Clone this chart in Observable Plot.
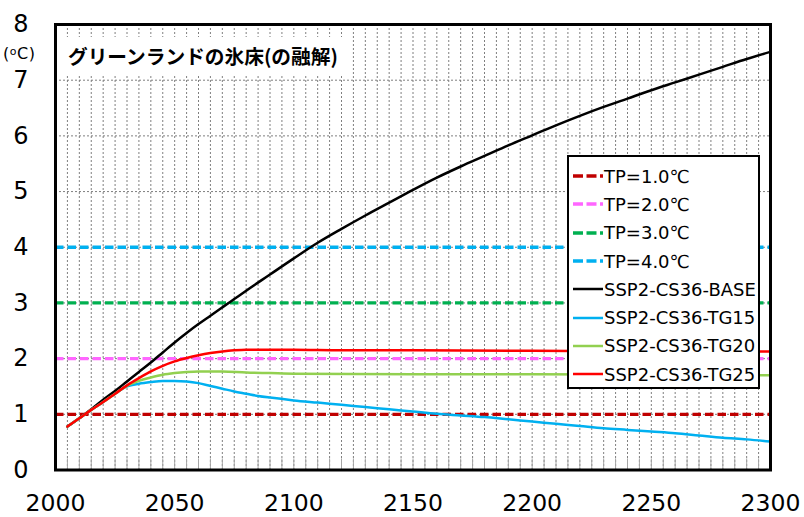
<!DOCTYPE html>
<html>
<head>
<meta charset="utf-8">
<script src="https://cdn.jsdelivr.net/npm/d3@7"></script>
<script src="https://cdn.jsdelivr.net/npm/@observablehq/plot@0.6"></script>
<style>
  body { margin: 0; background: #fff; }
  #chart { position: relative; width: 804px; height: 517px; font-family: "DejaVu Sans", Verdana, sans-serif; }
  #chart svg { display: block; }
  #title {
    position: absolute; left: 57px; top: 37px; width: 286px; height: 38px;
    background: #fff; box-sizing: border-box; padding-left: 11px;
    font-family: "Noto Sans CJK JP", sans-serif; font-weight: bold; font-size: 19.7px; line-height: 38px;
    white-space: nowrap;
  }
  #unit {
    position: absolute; left: 3px; top: 44px; font-size: 16px; letter-spacing: 0.5px; white-space: nowrap;
  }
  #unit span { font-size: 11px; vertical-align: 4px; }
  #legend {
    position: absolute; left: 567px; top: 155px; width: 193px; height: 234px;
    box-sizing: border-box; border: 2px solid #000; background: #fff; padding-top: 5px;
  }
  .entry { height: 28.3px; display: flex; align-items: center; font-size: 18px; white-space: nowrap; }
  .entry svg { margin-left: 3px; margin-right: 1px; flex: none; }
</style>
</head>
<body>
<div id="chart">
  <div id="unit">(<span>o</span>C)</div>
</div>
<script>
// Threshold temperatures (TP) drawn as dashed horizontal reference lines
const tpLabels = ["TP=1.0℃", "TP=2.0℃", "TP=3.0℃", "TP=4.0℃"];
const tpValues = [1, 2, 3, 4];
const tpColors = ["#c00000", "#ff66ff", "#00b050", "#00b0f0"];

// Temperature pathways (°C)
const seriesNames = ["SSP2-CS36-BASE", "SSP2-CS36-TG15", "SSP2-CS36-TG20", "SSP2-CS36-TG25"];
const seriesColors = ["#000000", "#00b0f0", "#92d050", "#ff0000"];

const baseYears  = [2005, 2010, 2015, 2020, 2025, 2030, 2035, 2040, 2045, 2050, 2055, 2060, 2065, 2070, 2075, 2080, 2090, 2100, 2110, 2120, 2130, 2140, 2150, 2160, 2170, 2180, 2190, 2200, 2210, 2220, 2230, 2240, 2250, 2260, 2270, 2280, 2290, 2300];
const baseValues = [0.78, 0.93, 1.09, 1.26, 1.42, 1.59, 1.76, 1.93, 2.11, 2.29, 2.46, 2.62, 2.77, 2.92, 3.07, 3.22, 3.51, 3.80, 4.08, 4.33, 4.57, 4.80, 5.03, 5.25, 5.45, 5.64, 5.83, 6.01, 6.19, 6.36, 6.52, 6.67, 6.82, 6.96, 7.10, 7.24, 7.38, 7.51];

const tg15Years  = [2005, 2010, 2015, 2020, 2025, 2030, 2035, 2040, 2045, 2050, 2055, 2060, 2065, 2070, 2075, 2080, 2085, 2090, 2100, 2110, 2120, 2130, 2140, 2150, 2160, 2170, 2180, 2190, 2200, 2210, 2220, 2230, 2240, 2250, 2260, 2270, 2280, 2290, 2300];
const tg15Values = [0.78, 0.93, 1.08, 1.22, 1.37, 1.50, 1.55, 1.58, 1.60, 1.60, 1.59, 1.56, 1.51, 1.46, 1.41, 1.37, 1.33, 1.30, 1.25, 1.21, 1.17, 1.13, 1.09, 1.05, 1.01, 0.98, 0.95, 0.91, 0.87, 0.83, 0.79, 0.75, 0.72, 0.69, 0.66, 0.62, 0.58, 0.55, 0.51];

const tg20Years  = [2005, 2010, 2015, 2020, 2025, 2030, 2035, 2040, 2045, 2050, 2055, 2060, 2065, 2070, 2080, 2090, 2100, 2150, 2200, 2250, 2300];
const tg20Values = [0.78, 0.93, 1.08, 1.22, 1.37, 1.51, 1.60, 1.66, 1.71, 1.74, 1.76, 1.77, 1.77, 1.77, 1.75, 1.74, 1.73, 1.72, 1.72, 1.71, 1.70];

const tg25Years  = [2005, 2010, 2015, 2020, 2025, 2030, 2035, 2040, 2045, 2050, 2055, 2060, 2065, 2070, 2075, 2080, 2090, 2100, 2120, 2150, 2200, 2250, 2300];
const tg25Values = [0.78, 0.93, 1.08, 1.22, 1.37, 1.52, 1.65, 1.77, 1.87, 1.95, 2.01, 2.06, 2.10, 2.13, 2.15, 2.16, 2.16, 2.16, 2.15, 2.15, 2.14, 2.13, 2.13];

// Axis ticks
const xTicks = [2000, 2050, 2100, 2150, 2200, 2250, 2300];
const yTicks = [0, 1, 2, 3, 4, 5, 6, 7, 8];
const minorYears = d3.range(2005, 2300, 5);

const seriesYears = [baseYears, tg15Years, tg20Years, tg25Years];
const seriesValues = [baseValues, tg15Values, tg20Values, tg25Values];
const rows = seriesNames.flatMap((name, k) =>
  seriesYears[k].map((year, i) => ({series: name, year, value: seriesValues[k][i]}))
);
const tpRows = tpLabels.map((label, i) => ({label, value: tpValues[i], color: tpColors[i]}));

const gridStyle = {stroke: "#7f7f7f", strokeOpacity: 1, strokeWidth: 1, strokeDasharray: "2,2"};

const plot = Plot.plot({
  width: 804,
  height: 517,
  marginLeft: 55,
  marginRight: 34,
  marginTop: 24,
  marginBottom: 47.5,
  style: {fontFamily: "'DejaVu Sans', Verdana, sans-serif", background: "white", color: "black"},
  x: {domain: [2000, 2300], label: null},
  y: {domain: [0, 8], label: null},
  color: {domain: seriesNames, range: seriesColors},
  marks: [
    Plot.gridX(minorYears, gridStyle),
    Plot.gridY(yTicks.slice(1, -1), gridStyle),
    // short inner tick marks along the bottom edge every 5 years
    Plot.ruleX(minorYears, {y1: 0, y2: 0.2, stroke: "#a6a6a6", strokeWidth: 1}),
    Plot.axisX(xTicks, {tickSize: 0, tickPadding: 24, fontSize: 23.5, tickFormat: d => String(d), label: null}),
    Plot.axisY(yTicks, {tickSize: 0, tickPadding: 27, fontSize: 24, tickFormat: d => String(d), label: null}),
    ...tpRows.map(t => Plot.ruleY([t.value], {stroke: t.color, strokeWidth: 3.3, strokeDasharray: "8.5,4"})),
    Plot.line(rows, {x: "year", y: "value", z: "series", stroke: "series", strokeWidth: 2.5, curve: "monotone-x"}),
    Plot.frame({stroke: "black", strokeWidth: 3})
  ]
});

const chart = document.getElementById("chart");
chart.insertBefore(plot, chart.firstChild);

const title = document.createElement("div");
title.id = "title";
title.textContent = "グリーンランドの氷床(の融解)";
chart.appendChild(title);

// Legend: dashed thresholds, then solid pathways
const legend = document.createElement("div");
legend.id = "legend";
const NS = "http://www.w3.org/2000/svg";
const legendItems = [
  ...tpRows.map(t => ({label: t.label, color: t.color, dashed: true})),
  ...seriesNames.map((s, i) => ({label: s, color: seriesColors[i], dashed: false}))
];
for (const item of legendItems) {
  const row = document.createElement("div");
  row.className = "entry";
  const sw = document.createElementNS(NS, "svg");
  sw.setAttribute("width", 31);
  sw.setAttribute("height", 10);
  const ln = document.createElementNS(NS, "line");
  ln.setAttribute("x1", 1); ln.setAttribute("x2", 31);
  ln.setAttribute("y1", 5); ln.setAttribute("y2", 5);
  ln.setAttribute("stroke", item.color);
  ln.setAttribute("stroke-width", item.dashed ? 3.3 : 2.5);
  if (item.dashed) ln.setAttribute("stroke-dasharray", "10,3.5");
  sw.appendChild(ln);
  const txt = document.createElement("span");
  txt.textContent = item.label;
  row.appendChild(sw);
  row.appendChild(txt);
  legend.appendChild(row);
}
chart.appendChild(legend);
</script>
</body>
</html>
